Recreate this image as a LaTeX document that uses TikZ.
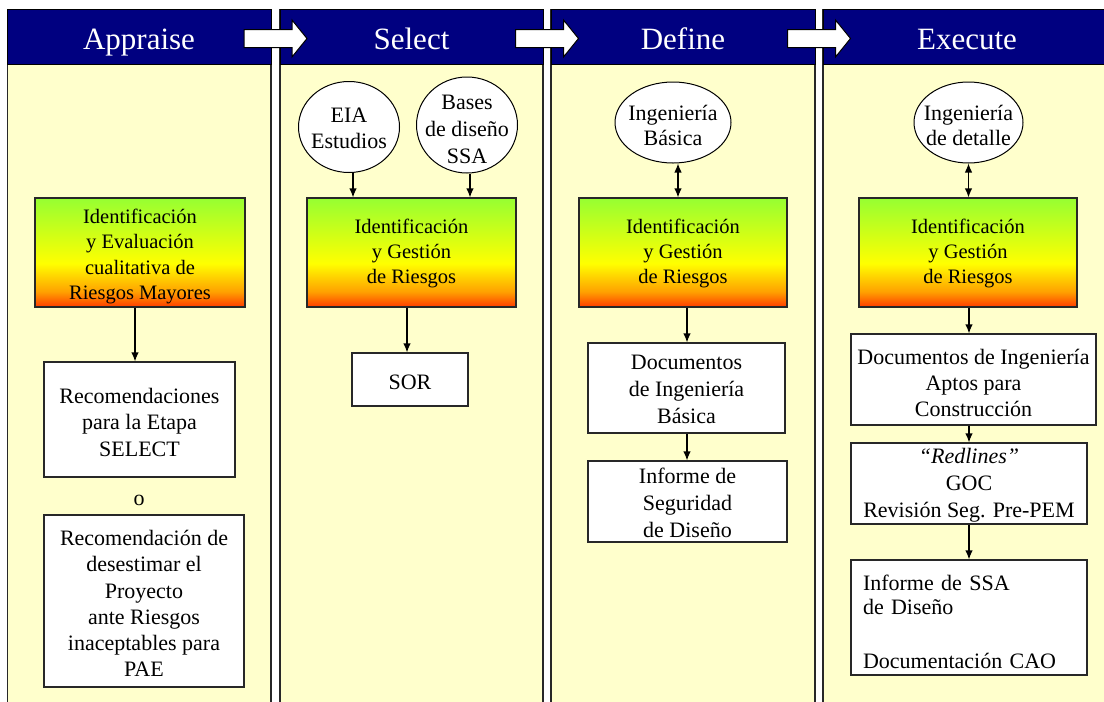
\documentclass[tikz,border=0pt]{standalone}
\usepackage{fontspec}
\setmainfont{Liberation Serif}
\usetikzlibrary{shapes.geometric,arrows.meta}
\definecolor{navyh}{RGB}{0,0,128}
\definecolor{paneyel}{RGB}{255,255,204}
\definecolor{ggreen}{RGB}{150,255,50}
\definecolor{gyellow}{RGB}{255,255,0}
\definecolor{gorange}{RGB}{255,160,0}
\definecolor{gred}{RGB}{255,60,0}
\definecolor{edgegray}{RGB}{40,40,40}
\pgfdeclareverticalshading{riskshade}{100bp}{color(0bp)=(gred); color(25bp)=(gred); color(32bp)=(gorange); color(45bp)=(gyellow); color(75bp)=(ggreen); color(100bp)=(ggreen)}
\begin{document}
\begin{tikzpicture}[x=1pt,y=-1pt,
  panel/.style={draw=edgegray, line width=1.3pt, fill=paneyel},
  header/.style={draw=black, line width=1pt, fill=navyh},
  htext/.style={text=white, inner sep=0pt, anchor=base, font=\fontsize{31}{36}\selectfont},
  box/.style={draw=edgegray, line width=1.2pt, fill=white, inner sep=0pt},
  gbox/.style={draw=edgegray, line width=1.2pt, shade, shading=riskshade, inner sep=0pt},
  oval/.style={ellipse, draw=black, line width=1pt, fill=white, inner sep=0pt},
  tx/.style={inner sep=0pt, align=center, yshift=-2.5pt, font=\fontsize{22}{26.5}\selectfont},
  gtx/.style={inner sep=0pt, align=center, yshift=-1pt, font=\fontsize{20.5}{25.3}\selectfont},
  conn/.style={-{Latex[length=9pt,width=7.5pt]}, line width=1.2pt},
  bconn/.style={{Latex[length=9pt,width=7.5pt]}-{Latex[length=9pt,width=7.5pt]}, line width=1.2pt},
  flowarrow/.style={draw=black, line width=1pt, fill=white}
]
\clip (0,0) rectangle (1104,702);
\fill[white] (0,0) rectangle (1104,702);
% panels
\path[panel] (7.5,9.6) rectangle (271,712);
\path[panel] (280,9.6) rectangle (543,712);
\path[panel] (551,9.6) rectangle (815,712);
\path[panel] (823,9.6) rectangle (1112,712);
% headers
\path[header] (7.5,9.6) rectangle (271,64);
\path[header] (280,9.6) rectangle (543,64);
\path[header] (551,9.6) rectangle (815,64);
\path[header] (823,9.6) rectangle (1112,64);
\node[htext] (hA) at (139,49) {Appraise};
\node[htext] (hS) at (411.5,49) {Select};
\node[htext] (hD) at (683,49) {Define};
\node[htext] (hE) at (967,49) {Execute};
% block arrows between phases
\foreach \gx in {275.5,547,819}{
  \draw[flowarrow] (\gx-31.5,29.5) -- (\gx+16.5,29.5) -- (\gx+16.5,20) -- (\gx+31.5,38.5)
     -- (\gx+16.5,57) -- (\gx+16.5,47.5) -- (\gx-31.5,47.5) -- cycle;
}
% ---------- Appraise
\node[gbox, minimum width=210, minimum height=109,
  label={[gtx, yshift=-3pt, font=\fontsize{20.5}{25.6}\selectfont]center:{Identificación\\y Evaluación\\cualitativa de\\Riesgos Mayores}}] (g1) at (140,252.5) {};
\node[box, minimum width=191, minimum height=115,
  label={[tx]center:{Recomendaciones\\para la Etapa\\SELECT}}] (r1) at (139.5,419.5) {};
\node[inner sep=0pt, font=\fontsize{22}{26}\selectfont] (o1) at (139,500) {o};
\node[box, minimum width=200, minimum height=172,
  label={[tx, font=\fontsize{22}{26.3}\selectfont]center:{Recomendación de\\desestimar el\\Proyecto\\ante Riesgos\\inaceptables para\\PAE}}] (r2) at (144,601) {};
\draw[conn] ([xshift=-5pt]g1.south) -- ([xshift=-5pt]g1.south |- r1.north);
% ---------- Select
\node[oval, minimum width=101, minimum height=91,
  label={[tx, yshift=1pt, font=\fontsize{22}{26}\selectfont]center:{EIA\\Estudios}}] (e1) at (349,127) {};
\node[oval, minimum width=101, minimum height=96,
  label={[tx, yshift=-1.5pt, font=\fontsize{22}{27}\selectfont]center:{Bases\\de diseño\\SSA}}] (e2) at (467,125) {};
\node[gbox, minimum width=209, minimum height=109,
  label={[gtx]center:{Identificación\\y Gestión\\de Riesgos}}] (g2) at (411.5,252.5) {};
\node[box, minimum width=116, minimum height=53,
  label={[tx]center:{SOR}}] (s2) at (410,379.5) {};
\draw[conn] ([xshift=4pt]e1.south) -- ([xshift=4pt]e1.south |- g2.north);
\draw[conn] ([xshift=3pt]e2.south) -- ([xshift=3pt]e2.south |- g2.north);
\draw[conn] ([xshift=-4.5pt]g2.south) -- ([xshift=-4.5pt]g2.south |- s2.north);
% ---------- Define
\node[oval, minimum width=116, minimum height=81,
  label={[tx, font=\fontsize{22}{25}\selectfont]center:{Ingeniería\\Básica}}] (e3) at (673,122.5) {};
\node[gbox, minimum width=208, minimum height=109,
  label={[gtx]center:{Identificación\\y Gestión\\de Riesgos}}] (g3) at (683,252.5) {};
\node[box, minimum width=197, minimum height=90,
  label={[tx, yshift=1pt, font=\fontsize{22}{27}\selectfont]center:{Documentos\\de Ingeniería\\Básica}}] (d3) at (686.5,388) {};
\node[box, minimum width=199, minimum height=81,
  label={[tx, yshift=1pt, font=\fontsize{22}{27}\selectfont]center:{Informe de\\Seguridad\\de Diseño}}] (i3) at (687.5,501.5) {};
\draw[bconn] ([xshift=5pt]e3.south) -- ([xshift=5pt]e3.south |- g3.north);
\draw[conn] ([xshift=4pt]g3.south) -- ([xshift=4pt]g3.south |- d3.north);
\draw[conn] ([xshift=0.5pt]d3.south) -- ([xshift=0.5pt]d3.south |- i3.north);
% ---------- Execute
\node[oval, minimum width=109, minimum height=81,
  label={[tx, font=\fontsize{22}{25}\selectfont]center:{Ingeniería\\de detalle}}] (e4) at (968.5,122.5) {};
\node[gbox, minimum width=218, minimum height=109,
  label={[gtx]center:{Identificación\\y Gestión\\de Riesgos}}] (g4) at (968,252.5) {};
\node[box, minimum width=245, minimum height=91,
  label={[tx, yshift=-1pt, font=\fontsize{22}{26}\selectfont]center:{Documentos de Ingeniería\\Aptos para\\Construcción}}] (d4) at (973.5,379.5) {};
\node[box, minimum width=236, minimum height=81,
  label={[tx, yshift=0.5pt, font=\fontsize{22}{27}\selectfont]center:{\textit{“Redlines”}\\GOC\\Revisión Seg. Pre-PEM}}] (rl) at (969,483.5) {};
\node[box, minimum width=236, minimum height=115,
  label={[tx, align=left, text width=212pt, yshift=-1.5pt, font=\fontsize{22}{24.5}\selectfont]center:{Informe de SSA\\de Diseño\\[29pt]Documentación CAO}}] (is4) at (969,617.5) {};
\draw[bconn] (e4.south) -- (e4.south |- g4.north);
\draw[conn] ([xshift=1pt]g4.south) -- ([xshift=1pt]g4.south |- d4.north);
\draw[conn] ([xshift=-4.5pt]d4.south) -- ([xshift=-4.5pt]d4.south |- rl.north);
\draw[conn] (rl.south) -- (rl.south |- is4.north);
\end{tikzpicture}
\end{document}
